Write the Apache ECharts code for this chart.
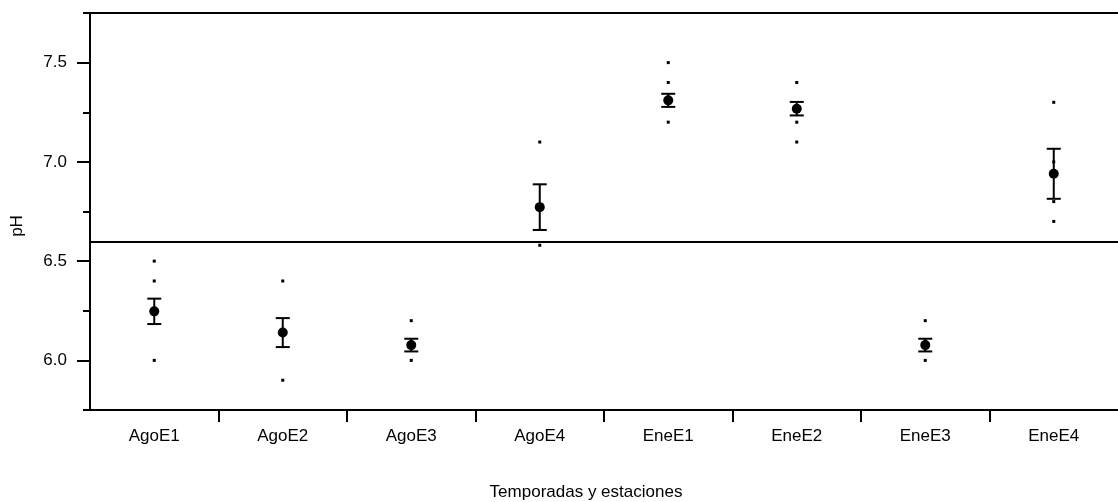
<!DOCTYPE html>
<html>
<head>
<meta charset="utf-8">
<script src="https://cdn.jsdelivr.net/npm/echarts@6/dist/echarts.min.js"></script>
<style>
html,body{margin:0;padding:0;background:#fff;}
#chart{width:1118px;height:502px;}
</style>
</head>
<body>
<div id="chart"></div>
<script>
// ---- data ----
const categories = ['AgoE1','AgoE2','AgoE3','AgoE4','EneE1','EneE2','EneE3','EneE4'];
const means = [6.247, 6.14, 6.077, 6.772, 7.31, 7.268, 6.077, 6.94];
const errHalf = [0.064, 0.073, 0.032, 0.115, 0.033, 0.034, 0.032, 0.126];
const observations = [
  [6.5, 6.4, 6.0],
  [6.4, 5.9],
  [6.2, 6.0],
  [7.1, 6.58],
  [7.5, 7.4, 7.2],
  [7.4, 7.2, 7.1],
  [6.2, 6.0],
  [7.3, 7.0, 6.8, 6.7]
];
const refLine = 6.6;
const yMajorTicks = [6.0, 6.5, 7.0, 7.5];
const yMinorTicks = [5.75, 6.25, 6.75, 7.25, 7.75];
const xAxisTitle = 'Temporadas y estaciones';
const yAxisTitle = 'pH';

// ---- build ----
const FONT = "'Liberation Sans', Arial, sans-serif";
const catPos = categories.map((c, i) => i + 1);
const boundaries = categories.slice(1).map((c, i) => i + 1.5);
const meanData = means.map((m, i) => [catPos[i], m]);
const errData = means.map((m, i) => [catPos[i], m - errHalf[i], m + errHalf[i]]);
const obsData = [];
observations.forEach((arr, i) => arr.forEach(v => obsData.push([catPos[i], v])));

const chart = echarts.init(document.getElementById('chart'), null, {renderer: 'canvas'});
const axisLineStyle = {color: '#000', width: 2};
chart.setOption({
  animation: false,
  backgroundColor: '#fff',
  grid: {left: 90, right: -6, top: 13, bottom: 92, containLabel: false},
  xAxis: [
    {
      type: 'value', position: 'bottom', min: 0.5, max: 8.5,
      axisLine: {show: true, lineStyle: axisLineStyle},
      axisTick: {show: true, customValues: boundaries, length: 12, lineStyle: {color: '#000', width: 2}},
      axisLabel: {
        show: true, customValues: catPos, margin: 18,
        formatter: v => categories[Math.round(v) - 1] || '',
        color: '#000', fontSize: 17, fontFamily: FONT
      },
      splitLine: {show: false}
    },
    {
      type: 'value', position: 'top', min: 0.5, max: 8.5,
      axisLine: {show: true, lineStyle: axisLineStyle},
      axisTick: {show: false}, axisLabel: {show: false}, splitLine: {show: false}
    }
  ],
  yAxis: [
    {
      type: 'value', position: 'left', min: 5.75, max: 7.75,
      axisLine: {show: true, lineStyle: axisLineStyle},
      axisTick: {show: true, customValues: yMajorTicks, length: 13, lineStyle: {color: '#000', width: 2}},
      axisLabel: {
        show: true, customValues: yMajorTicks, margin: 23,
        formatter: v => v.toFixed(1),
        color: '#000', fontSize: 17, fontFamily: FONT
      },
      splitLine: {show: false}
    },
    {
      type: 'value', position: 'left', offset: 0, min: 5.75, max: 7.75,
      axisLine: {show: false},
      axisTick: {show: true, customValues: yMinorTicks, length: 7, lineStyle: {color: '#000', width: 2}},
      axisLabel: {show: false}, splitLine: {show: false}
    }
  ],
  series: [
    {
      type: 'custom',
      xAxisIndex: 0, yAxisIndex: 0,
      data: errData,
      renderItem: function (params, api) {
        const x = api.value(0);
        const lo = api.coord([x, api.value(1)]);
        const hi = api.coord([x, api.value(2)]);
        const hw = 7;
        const style = {stroke: '#000', lineWidth: 2};
        return {
          type: 'group',
          children: [
            {type: 'line', shape: {x1: lo[0], y1: lo[1], x2: hi[0], y2: hi[1]}, style},
            {type: 'line', shape: {x1: lo[0] - hw, y1: lo[1], x2: lo[0] + hw, y2: lo[1]}, style},
            {type: 'line', shape: {x1: hi[0] - hw, y1: hi[1], x2: hi[0] + hw, y2: hi[1]}, style}
          ]
        };
      },
      markLine: {
        silent: true, symbol: ['none', 'none'],
        label: {show: false},
        lineStyle: {color: '#000', width: 2, type: 'solid', opacity: 1},
        data: [{yAxis: refLine}]
      },
      z: 2
    },
    {
      type: 'scatter', xAxisIndex: 0, yAxisIndex: 0,
      data: obsData, symbol: 'rect', symbolSize: 3,
      itemStyle: {color: '#000', opacity: 1}, z: 3
    },
    {
      type: 'scatter', xAxisIndex: 0, yAxisIndex: 0,
      data: meanData, symbol: 'circle', symbolSize: 10,
      itemStyle: {color: '#000', opacity: 1}, z: 4
    }
  ],
  graphic: [
    {
      type: 'text', x: 586, y: 492,
      style: {text: xAxisTitle, fill: '#000', font: '17px ' + FONT, textAlign: 'center', textVerticalAlign: 'middle'}
    },
    {
      type: 'text', x: 17, y: 226, rotation: Math.PI / 2,
      style: {text: yAxisTitle, fill: '#000', font: '17px ' + FONT, textAlign: 'center', textVerticalAlign: 'middle'}
    }
  ]
});
</script>
</body>
</html>
